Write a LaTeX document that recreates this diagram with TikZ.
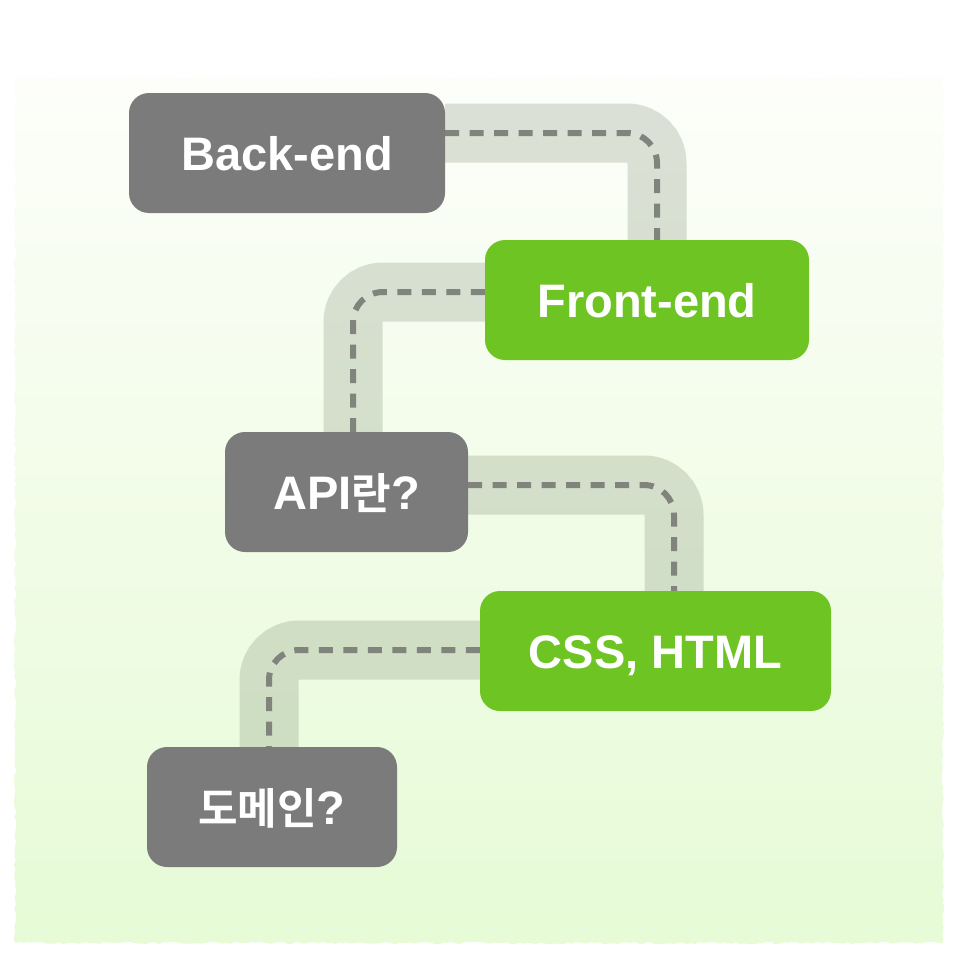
\documentclass[tikz,border=0pt]{standalone}
\usepackage{fontspec}
\setmainfont{Liberation Sans}
\newfontfamily\krfont{Noto Sans CJK KR}[BoldFont={* Bold}]
\usetikzlibrary{decorations.pathmorphing}
\pgfdeclarelayer{bg}
\pgfdeclarelayer{panel}
\pgfsetlayers{panel,bg,main}
\definecolor{nodegray}{RGB}{123,123,123}
\definecolor{nodegreen}{RGB}{110,196,35}
\definecolor{bandc}{RGB}{120,135,110}
\definecolor{dashc}{RGB}{128,132,124}
\definecolor{bgtop}{RGB}{253,254,250}
\definecolor{bgbot}{RGB}{230,251,214}
\newcommand{\kr}[1]{{\krfont\bfseries\fontsize{43}{43}\selectfont #1}}
\tikzset{
  box/.style={rounded corners=20pt, minimum height=120pt, inner sep=0pt,
    text=white, font=\bfseries\fontsize{47}{47}\selectfont,
    text height=34pt, text depth=0pt},
  graybox/.style={box, fill=nodegray},
  greenbox/.style={box, fill=nodegreen},
  band/.style={line width=59pt, draw=bandc, draw opacity=0.25, rounded corners=30pt},
  dashline/.style={line width=6pt, draw=dashc, dash pattern=on 14pt off 10.5pt, rounded corners=30pt}
}
\begin{document}
\begin{tikzpicture}[x=1pt,y=-1pt]
\useasboundingbox (0,0) rectangle (958,958);
\begin{pgfonlayer}{panel}
  \fill[white] (0,0) rectangle (958,958);
  \shade[top color=bgtop, bottom color=bgbot,
    decorate, decoration={random steps, segment length=4pt, amplitude=1.2pt}]
    (15,77) rectangle (943,943);
\end{pgfonlayer}

\node[graybox, minimum width=316pt] (be) at (287,153) {Back-end};
\node[greenbox, minimum width=324pt] (fe) at (647,300) {Front-end};
\node[graybox, minimum width=243pt] (api) at (346.5,492) {API\kr{란}?};
\node[greenbox, minimum width=351pt] (css) at (655.5,651) {CSS, HTML};
\node[graybox, minimum width=250pt] (dom) at (272,807) {\kr{도메인}?};

\begin{pgfonlayer}{bg}
  \draw[band] ([yshift=20pt]be.east) -| ([xshift=10pt]fe.north);
  \draw[band] ([yshift=8pt]fe.west) -| ([xshift=6.5pt]api.north);
  \draw[band] ([yshift=7pt]api.east) -| ([xshift=18.5pt]css.north);
  \draw[band] ([yshift=1pt]css.west) -| ([xshift=-3pt]dom.north);
  \draw[dashline] ([yshift=20pt]be.east) -| ([xshift=10pt]fe.north);
  \draw[dashline] ([yshift=8pt]fe.west) -| ([xshift=6.5pt]api.north);
  \draw[dashline] ([yshift=7pt]api.east) -| ([xshift=18.5pt]css.north);
  \draw[dashline] ([yshift=1pt]css.west) -| ([xshift=-3pt]dom.north);
\end{pgfonlayer}
\end{tikzpicture}
\end{document}
